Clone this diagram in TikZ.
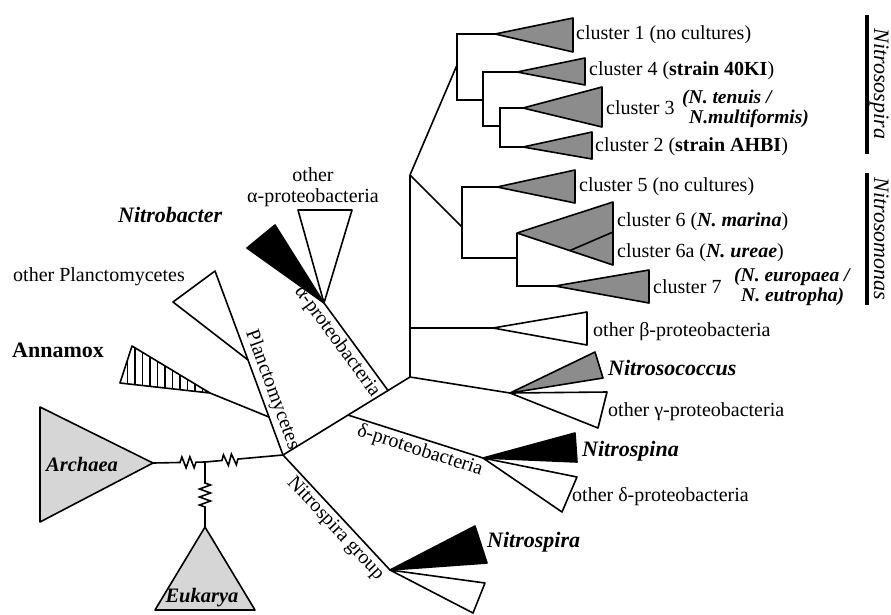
\documentclass[tikz,border=0pt]{standalone}
\usepackage{fontspec}
\setmainfont{Liberation Serif}
\usetikzlibrary{calc, decorations.pathmorphing, patterns.meta}

\definecolor{cladegray}{gray}{0.55}
\definecolor{rootgray}{gray}{0.84}

\tikzset{
  branch/.style={line width=1.6pt},
  clade/.style={draw, line width=1.6pt, line join=round, fill=#1},
  clade/.default=white,
  kinked/.style 2 args={decorate, decoration={zigzag, amplitude=5.5pt, segment length=8pt, pre length=#1, post length=#2}},
  lab/.style={inner sep=0pt, font=\fontsize{20}{21}\selectfont},
  sub/.style={inner sep=0pt, align=left, font=\fontsize{19.5}{20}\selectfont\bfseries\itshape},
  taxon/.style={inner sep=0pt, font=\fontsize{22}{24}\selectfont\bfseries\itshape},
  genus/.style={inner sep=0pt, rotate=-90, anchor=north, font=\fontsize{22}{24}\selectfont\itshape},
  bar/.style={line width=3.5pt},
}

\begin{document}
\begin{tikzpicture}[x=1pt, y=-1pt]
    \useasboundingbox (0, 0) rectangle (891, 614);

    % branch points
    \coordinate (root) at (283, 455);
    \coordinate (tr0) at (410, 377);
    \coordinate (trT) at (410, 175);
    \coordinate (trB) at (410, 328);
    \coordinate (aJ) at ($(root)!0.827!(tr0)$);
    \coordinate (dJ) at ($(root)!0.512!(tr0)$);
    \coordinate (euJ) at (205, 462);
    \coordinate (ssJ) at (457, 65);
    \coordinate (ssL) at (483, 100);
    \coordinate (ssM) at (500, 126);
    \coordinate (smJ) at (462, 227);
    \coordinate (smL) at (517, 258);

    % clade apexes
    \coordinate (arA) at (153, 463);
    \coordinate (euA) at (205, 527);
    \coordinate (pT) at (215, 271);
    \coordinate (pA) at (248, 360);
    \coordinate (anJ) at ($(pA)!0.6!(root)$);
    \coordinate (anA) at (210, 393);
    \coordinate (aA) at (324, 303);
    \coordinate (dA) at (483, 458);
    \coordinate (nA) at (390, 570);
    \coordinate (gA) at (510, 393);
    \coordinate (bA) at (493, 328);
    \coordinate (c1A) at (495, 34);
    \coordinate (c4A) at (517, 72);
    \coordinate (c3A) at (523, 108);
    \coordinate (c2A) at (523, 147);
    \coordinate (c5A) at (497, 187);
    \coordinate (c6A) at (517, 233);
    \coordinate (c7A) at (555, 286);

    % clades
    \draw[clade=rootgray] (arA) -- (40, 407) -- (40, 522) -- cycle;
    \draw[clade=rootgray] (euA) -- (155, 610) -- (255, 610) -- cycle;
    \draw[clade, pattern={Lines[angle=90, distance=7.5pt, line width=1.5pt]}] (anA) -- (132, 346) -- (120, 383) -- cycle;
    \draw[clade] (pA) -- (pT) -- (173, 302) -- cycle;
    \draw[clade=black] (aA) -- (247, 248) -- (275, 225) -- cycle;
    \draw[clade] (aA) -- (298, 210) -- (352, 210) -- cycle;
    \draw[clade=black] (dA) -- (575, 433) -- (577, 462) -- cycle;
    \draw[clade] (dA) -- (577, 477) -- (562, 512) -- cycle;
    \draw[clade=black] (nA) -- (475, 526) -- (487, 563) -- cycle;
    \draw[clade] (nA) -- (485, 583) -- (473, 613) -- cycle;
    \draw[clade=cladegray] (gA) -- (595, 352) -- (603, 378) -- cycle;
    \draw[clade] (gA) -- (607, 392) -- (598, 428) -- cycle;
    \draw[clade] (bA) -- (587, 312) -- (587, 345) -- cycle;
    \draw[clade=cladegray] (c1A) -- (573, 18) -- (573, 52) -- cycle;
    \draw[clade=cladegray] (c4A) -- (585, 58) -- (585, 85) -- cycle;
    \draw[clade=cladegray] (c3A) -- (602, 87) -- (602, 127) -- cycle;
    \draw[clade=cladegray] (c2A) -- (592, 132) -- (592, 159) -- cycle;
    \draw[clade=cladegray] (c5A) -- (575, 170) -- (575, 203) -- cycle;
    \draw[clade=cladegray] (c6A) -- (613, 202) -- (613, 265) -- cycle;
    \draw[branch] ($(c6A)!0.55!(613, 265)$) -- (613, 232);
    \draw[clade=cladegray] (c7A) -- (649, 270) -- (649, 303) -- cycle;

    % tree
    \draw[branch, kinked={27pt}{8pt}] (arA) -- (euJ);
    \draw[branch, kinked={17pt}{43pt}] (euJ) -- (root);
    \draw[branch, kinked={21pt}{17pt}] (euJ) -- (euA);
    \draw[branch] (root) -- (pA);
    \draw[branch] (anJ) -- (anA);
    \draw[branch] (root) -- (tr0);
    \draw[branch] (root) -- (nA);
    \draw[branch] (aJ) -- (aA);
    \draw[branch] (dJ) -- (dA);
    \draw[branch] (tr0) -- (gA);
    \draw[branch] (tr0) -- (trT);
    \draw[branch] (trB) -- (bA);
    \draw[branch] (trT) -- (ssJ);
    \draw[branch] (trT) -- (smJ);
    \draw[branch] (c1A) -| (ssJ) |- (ssL);
    \draw[branch] (c4A) -| (ssL) |- (ssM);
    \draw[branch] (c3A) -| (ssM) |- (c2A);
    \draw[branch] (c5A) -| (smJ) |- (smL);
    \draw[branch] (c6A) -- (smL) |- (c7A);

    % branch labels
    \path (pT) -- (root) node[lab, pos=0.67, sloped, above=3pt] (plab) {Planctomycetes};
    \path (aA) -- (aJ) node[lab, pos=0.36, sloped, below=3pt] (alab) {α-proteobacteria};
    \path (dJ) -- (dA) node[lab, pos=0.56, sloped, below=3pt] (dlab) {δ-proteobacteria};
    \path (root) -- (nA) node[lab, pos=0.57, sloped, below=3pt] (nlab) {Nitrospira group};

    % clade labels
    \node[lab, anchor=west] at (576, 35) (cl1) {cluster 1 (no cultures)};
    \node[lab, anchor=west] at (589, 71) (cl4) {cluster 4 (\textbf{strain 40KI})};
    \node[lab, anchor=west] at (606, 108) (cl3) {cluster 3};
    \node[sub, anchor=west] at (682, 109) (cl3n) {(N. tenuis /\\\hspace*{7pt}N.multiformis)};
    \node[lab, anchor=west] at (595, 147) (cl2) {cluster 2 (\textbf{strain AHBI})};
    \node[lab, anchor=west] at (579, 187) (cl5) {cluster 5 (no cultures)};
    \node[lab, anchor=west] at (617, 222) (cl6) {cluster 6 (\textbf{\textit{N. marina}})};
    \node[lab, anchor=west] at (617, 253) (cl6a) {cluster 6a (\textbf{\textit{N. ureae}})};
    \node[lab, anchor=west] at (653, 287) (cl7) {cluster 7};
    \node[sub, anchor=west] at (734, 287) (cl7n) {(N. europaea /\\\hspace*{7pt}N. eutropha)};
    \node[lab, anchor=west] at (593, 332) (ob) {other β-proteobacteria};
    \node[taxon, anchor=west] at (608, 368) (ncoc) {Nitrosococcus};
    \node[lab, anchor=west] at (608, 412) (og) {other γ-proteobacteria};
    \node[taxon, anchor=west] at (582, 451) (nspina) {Nitrospina};
    \node[lab, anchor=west] at (572, 497) (od) {other δ-proteobacteria};
    \node[taxon, anchor=west] at (487, 542) (nspira) {Nitrospira};
    \node[lab, align=center] at (313, 187) (oa) {other\\α-proteobacteria};
    \node[taxon, anchor=west] at (118, 215) (nbac) {Nitrobacter};
    \node[lab, anchor=west] at (13, 277) (opl) {other Planctomycetes};
    \node[taxon, anchor=west, font=\fontsize{22}{24}\selectfont\bfseries] at (12, 350) (anam) {Annamox};
    \node[taxon, font=\fontsize{20.5}{22}\selectfont\bfseries\itshape] at (82, 464) (arch) {Archaea};
    \node[taxon, font=\fontsize{20.5}{22}\selectfont\bfseries\itshape] at (202, 598) (euk) {Eukarya};

    % genus bars
    \coordinate (b1t) at (867, 15);
    \coordinate (b1b) at (867, 154);
    \coordinate (b2t) at (867, 173);
    \coordinate (b2b) at (867, 305);
    \draw[bar] (b1t) -- (b1b);
    \draw[bar] (b2t) -- (b2b);
    \node[genus] at (889, 84) (gss) {Nitrosospira};
    \node[genus] at (889, 239) (gsm) {Nitrosomonas};

\end{tikzpicture}
\end{document}
